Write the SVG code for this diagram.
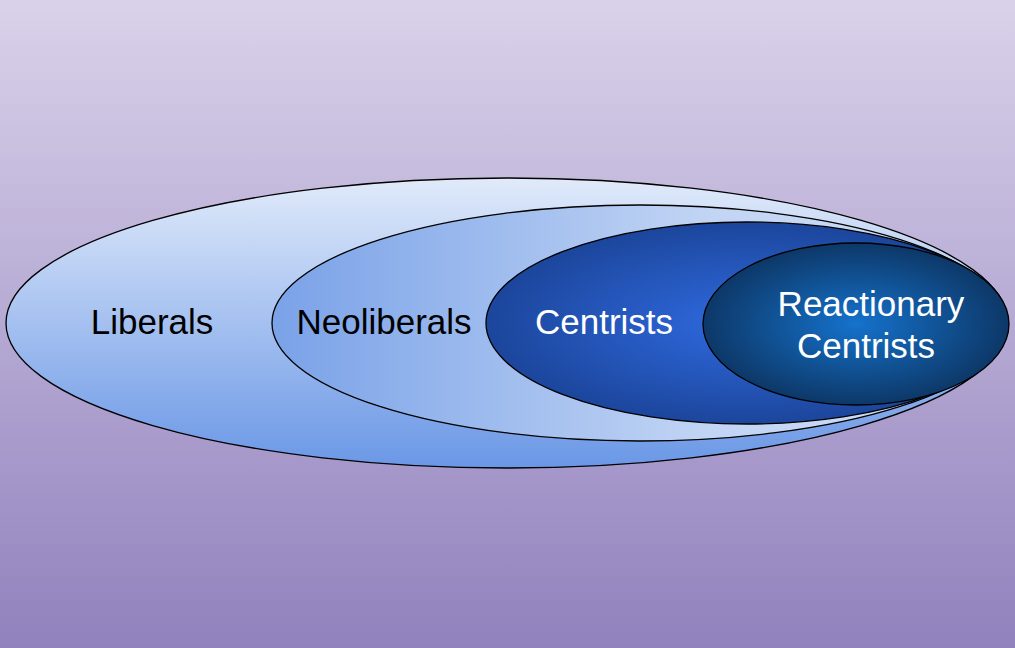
<svg xmlns="http://www.w3.org/2000/svg" width="1015" height="648" viewBox="0 0 1015 648">
<defs>
<linearGradient id="bg" x1="0" y1="0" x2="0" y2="1">
<stop offset="0" stop-color="#dad2ea"/>
<stop offset="1" stop-color="#9181bd"/>
</linearGradient>
<linearGradient id="g1" x1="0" y1="0" x2="0" y2="1">
<stop offset="0" stop-color="#e0eafa"/>
<stop offset="1" stop-color="#6a97e6"/>
</linearGradient>
<linearGradient id="g2" x1="0" y1="0" x2="1" y2="0">
<stop offset="0" stop-color="#7aa2e8"/>
<stop offset="0.6" stop-color="#c2d5f4"/>
<stop offset="1" stop-color="#cddcf6"/>
</linearGradient>
<radialGradient id="g3" cx="0.5" cy="0.5" r="0.5">
<stop offset="0" stop-color="#2f6ae0"/>
<stop offset="1" stop-color="#1c469c"/>
</radialGradient>
<radialGradient id="g4" cx="0.5" cy="0.5" r="0.5">
<stop offset="0" stop-color="#1572cc"/>
<stop offset="1" stop-color="#0d3868"/>
</radialGradient>
<style>
.e{stroke:#000;stroke-width:1.3}
.t{font-family:"Liberation Sans",Arial,sans-serif;font-size:35px;text-anchor:middle}
</style>
</defs>
<rect width="1015" height="648" fill="url(#bg)"/>
<g id="liberals">
<ellipse class="e" cx="507" cy="323" rx="501" ry="145" fill="url(#g1)"/>
<text class="t" x="152" y="334" fill="#000">Liberals</text>
</g>
<g id="neoliberals">
<ellipse class="e" cx="640" cy="323" rx="368" ry="118" fill="url(#g2)"/>
<text class="t" x="384" y="334" fill="#000">Neoliberals</text>
</g>
<g id="centrists">
<ellipse class="e" cx="747" cy="323" rx="261" ry="101" fill="url(#g3)"/>
<text class="t" x="604" y="334" fill="#fff">Centrists</text>
</g>
<g id="reactionary">
<ellipse class="e" cx="856" cy="324" rx="153" ry="81" fill="url(#g4)"/>
<text class="t" x="871" y="316" fill="#fff">Reactionary</text>
<text class="t" x="866" y="358" fill="#fff">Centrists</text>
</g>
<g id="connectors"/>
</svg>
